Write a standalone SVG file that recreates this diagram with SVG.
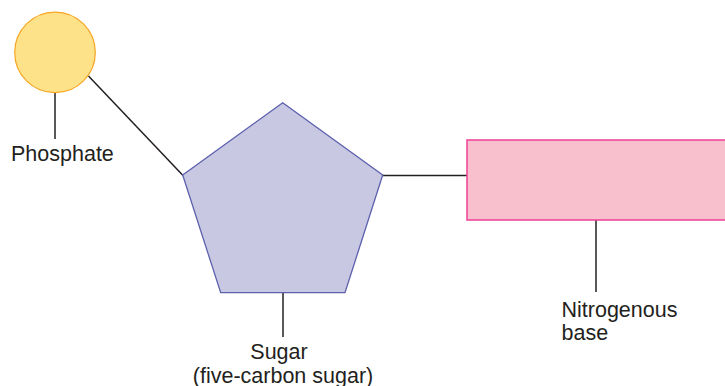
<svg xmlns="http://www.w3.org/2000/svg" width="725" height="386" viewBox="0 0 725 386">
<style>
.lbl{font-family:"Liberation Sans",Arial,Helvetica,sans-serif;font-size:21.5px;fill:#231f20}
.conn{stroke:#231f20;stroke-width:1.5;fill:none}
</style>
<rect x="0" y="0" width="725" height="386" fill="#ffffff"/>
<g id="connectors">
<line class="conn" x1="88.5" y1="76" x2="183" y2="175.5"/>
<line class="conn" x1="55" y1="93" x2="55" y2="139"/>
<line class="conn" x1="383" y1="175.5" x2="467" y2="175.5"/>
<line class="conn" x1="283" y1="293" x2="283" y2="337"/>
<line class="conn" x1="596" y1="220" x2="596" y2="292"/>
</g>
<g id="phosphate">
<circle cx="55" cy="52.4" r="40.3" fill="#fde28a" stroke="#f6a623" stroke-width="1.2"/>
<text class="lbl" x="11" y="161">Phosphate</text>
</g>
<g id="sugar">
<polygon points="282.7,102.7 382.7,175 345,292.7 220.7,292.7 182.7,175" fill="#c9c8e2" stroke="#5c60ad" stroke-width="1.3" stroke-linejoin="miter"/>
<text class="lbl" x="279" y="358.5" text-anchor="middle">Sugar</text>
<text class="lbl" x="283" y="382.5" text-anchor="middle">(five-carbon sugar)</text>
</g>
<g id="base">
<rect x="467" y="140" width="270" height="80" fill="#f7c0cc" stroke="#ee3f96" stroke-width="1.5"/>
<text class="lbl" x="561.5" y="317">Nitrogenous</text>
<text class="lbl" x="561.5" y="340">base</text>
</g>
</svg>
